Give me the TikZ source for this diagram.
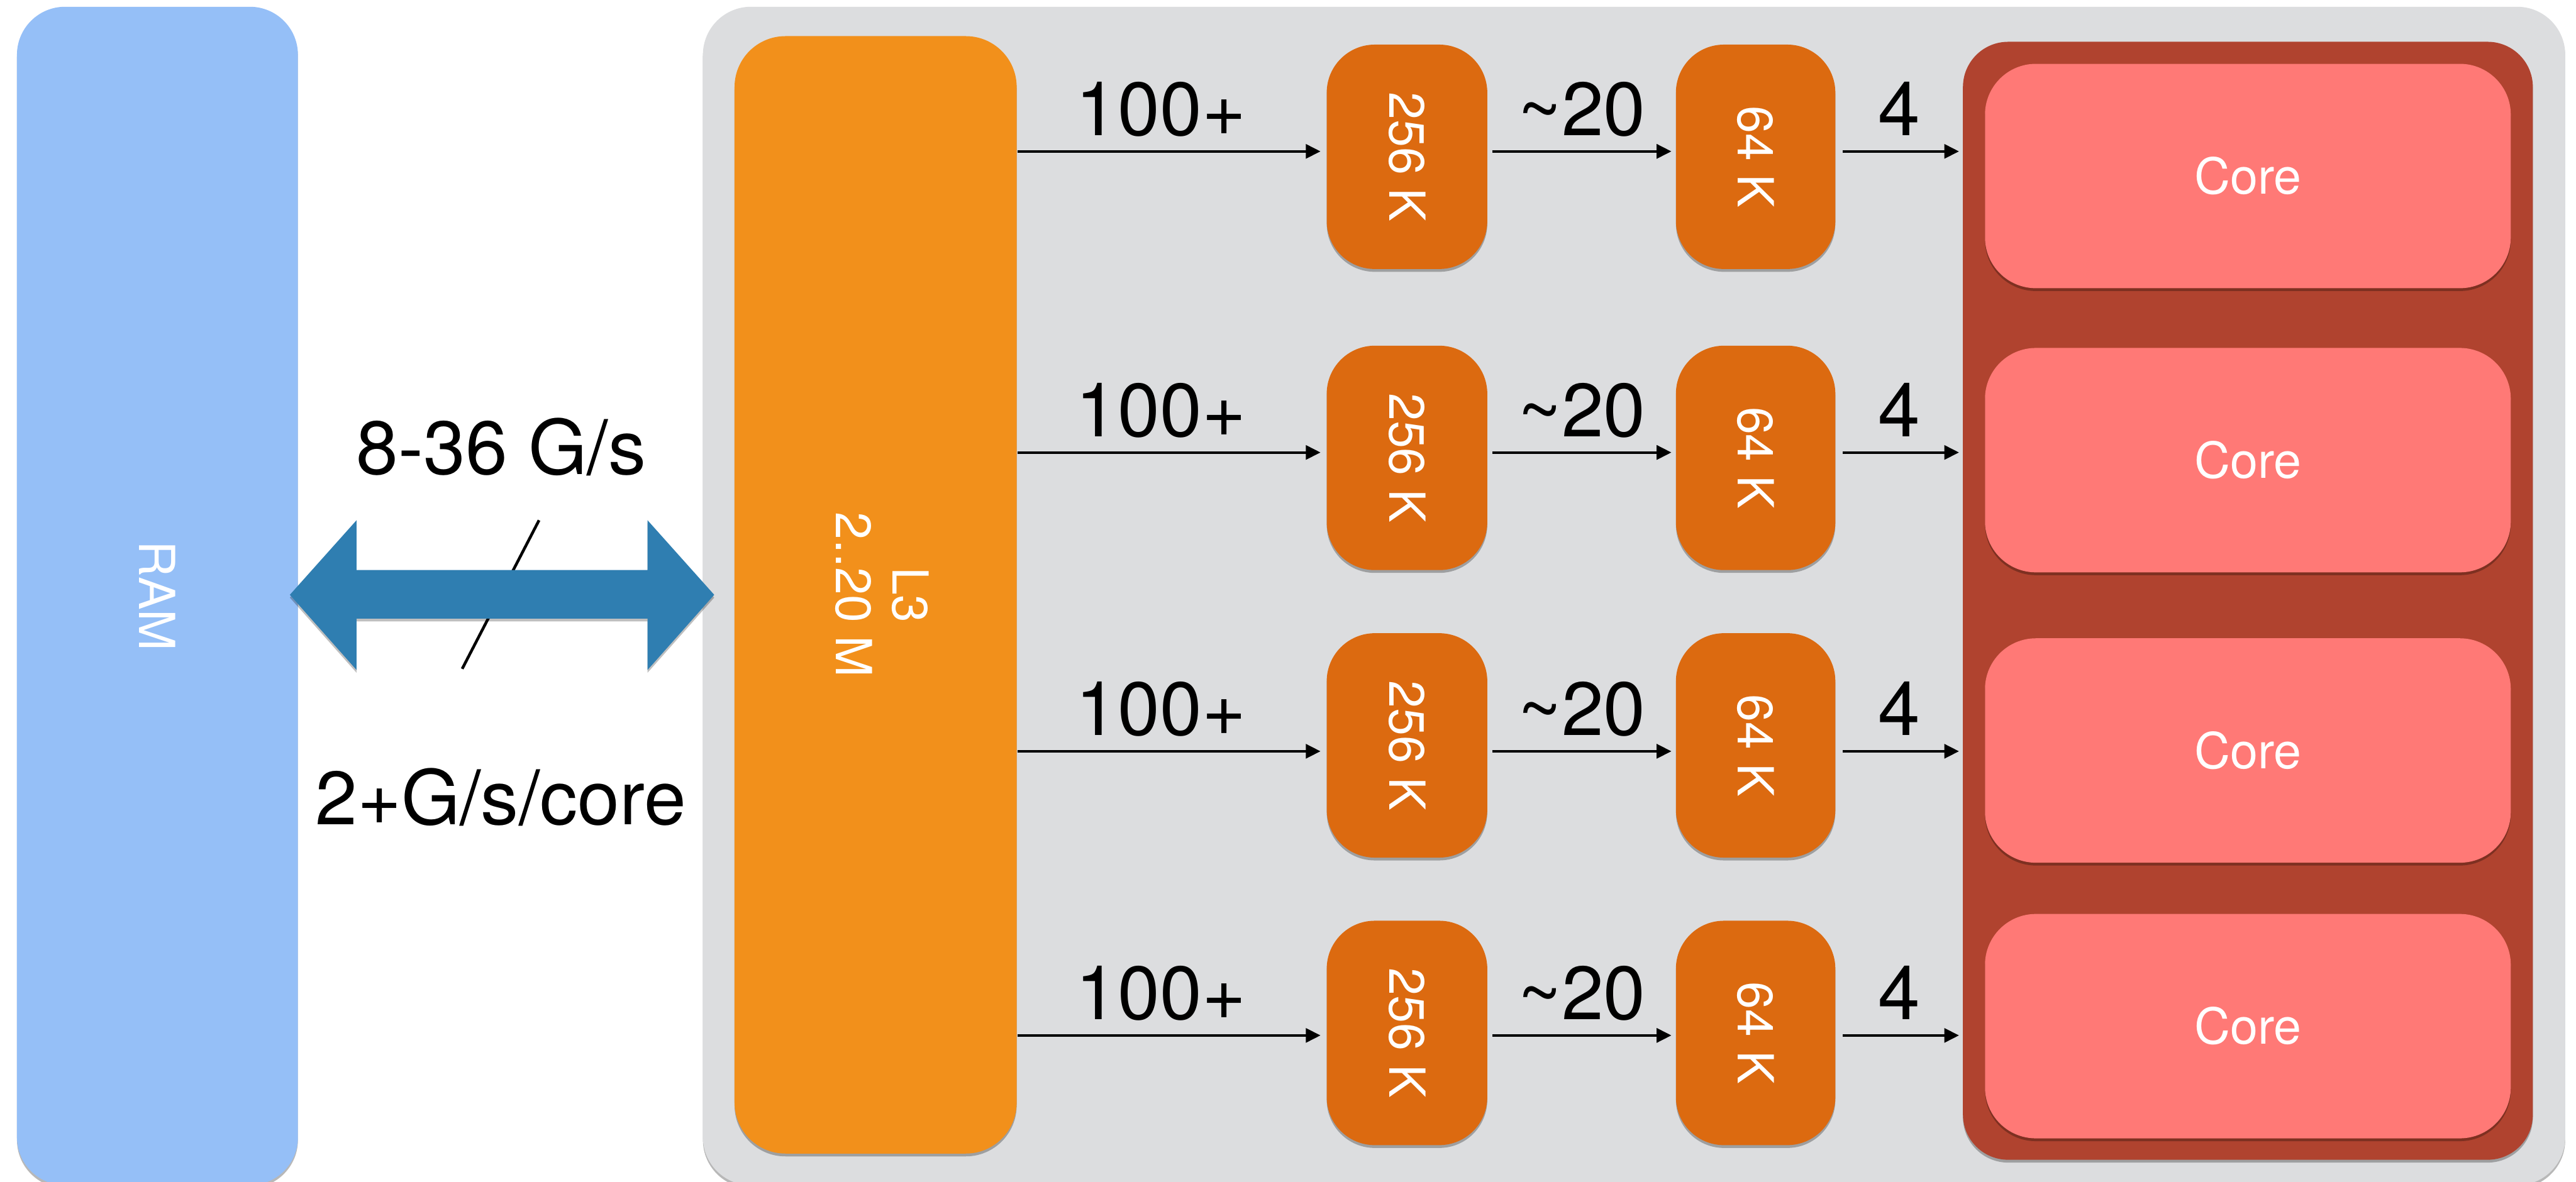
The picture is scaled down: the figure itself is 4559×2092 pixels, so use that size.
\documentclass[tikz,border=0pt]{standalone}
\usepackage{fontspec}
\setmainfont{TeX Gyre Heros}
\usetikzlibrary{arrows.meta,shadows,calc}
\definecolor{ramblue}{HTML}{95BFF7}
\definecolor{panel}{HTML}{DCDDDF}
\definecolor{lthree}{HTML}{F2901B}
\definecolor{cache}{HTML}{DC6A10}
\definecolor{corebg}{HTML}{B0432F}
\definecolor{corefill}{HTML}{FF7976}
\definecolor{busblue}{HTML}{2F7EB1}
\begin{document}
\begin{tikzpicture}[x=0.01cm,y=-0.01cm,
  boxbase/.style={inner sep=0pt, outer sep=0pt, draw=none, anchor=north west,
    text=white, font=\fontsize{25}{28.5}\selectfont},
  softshadow/.style={drop shadow={shadow xshift=0cm, shadow yshift=-0.05cm, opacity=0.28, fill=black}},
  ramsty/.style={boxbase, fill=ramblue, rounded corners=0.85cm, softshadow},
  panelsty/.style={boxbase, fill=panel, rounded corners=0.85cm, softshadow},
  l3sty/.style={boxbase, fill=lthree, rounded corners=0.9cm, softshadow},
  cachesty/.style={boxbase, fill=cache, rounded corners=0.85cm, softshadow,
    minimum height=3.97cm},
  redsty/.style={boxbase, fill=corebg, rounded corners=0.8cm, softshadow},
  coresty/.style={boxbase, fill=corefill, rounded corners=0.9cm, softshadow,
    minimum width=9.30cm, minimum height=3.97cm},
  conn/.style={line width=0.045cm, -{Triangle[length=0.26cm,width=0.25cm]}},
  lat/.style={font=\fontsize{38}{40}\selectfont, anchor=base, inner sep=0pt},
  bigtext/.style={font=\fontsize{38}{40}\selectfont, anchor=base, inner sep=0pt}
]
\useasboundingbox (0,0) rectangle (4559,2092);
\fill[white] (0,0) rectangle (4559,2092);

% RAM
\node[ramsty, minimum width=4.97cm, minimum height=20.85cm] (ram) at (30,12) {\rotatebox{-90}{RAM}};

% panel
\node[panelsty, minimum width=32.94cm, minimum height=20.85cm] (panel) at (1244,12) {};

% L3
\node[l3sty, minimum width=4.99cm, minimum height=19.77cm] (l3) at (1300,64)
  {\rotatebox{-90}{\begin{tabular}{@{}c@{}}L3\\2..20 M\end{tabular}}};

% core container
\node[redsty, minimum width=10.08cm, minimum height=19.78cm] (red) at (3474,74) {};

% bus labels and slash
\node[bigtext] (bwtop) at (887,840) {8-36 G/s};
\node[bigtext] (bwbot) at (886,1460) {2+G/s/core};
\draw[line width=0.05cm] (954,921) -- (818,1184);

% bus arrow
\coordinate (busL) at (513,1053);
\coordinate (busR) at (1264,1053);
\fill[busblue, drop shadow={shadow xshift=0cm, shadow yshift=-0.05cm, opacity=0.25, fill=black}]
  (busL) -- (631,921) -- (631,1009) -- (1146,1009) -- (1146,921) -- (busR)
  -- (1146,1186) -- (1146,1095) -- (631,1095) -- (631,1186) -- cycle;

% rows
\foreach \i/\t/\a/\ct in {1/79/268/113, 2/612/801/616, 3/1121/1330/1130, 4/1630/1833/1618}{
  \node[cachesty, minimum width=2.84cm] (k\i) at (2348,\t) {\rotatebox{-90}{256 K}};
  \node[cachesty, minimum width=2.82cm] (s\i) at (2966,\t) {\rotatebox{-90}{64 K}};
  \node[coresty] (c\i) at (3513,\ct) {Core};
  \coordinate (r\i) at (0,\a);
  \draw[conn, shorten <=0.02cm, shorten >=0.11cm] (l3.east |- r\i) -- (k\i.west |- r\i)
    node[lat, midway, yshift=0.28cm, xshift=-0.19cm] {100+};
  \draw[conn, shorten <=0.09cm, shorten >=0.08cm] (k\i.east |- r\i) -- (s\i.west |- r\i)
    node[lat, midway, yshift=0.28cm] {\textasciitilde 20};
  \draw[conn, shorten <=0.13cm, shorten >=0.07cm] (s\i.east |- r\i) -- (red.west |- r\i)
    node[lat, midway, yshift=0.28cm] {4};
}
\end{tikzpicture}
\end{document}
